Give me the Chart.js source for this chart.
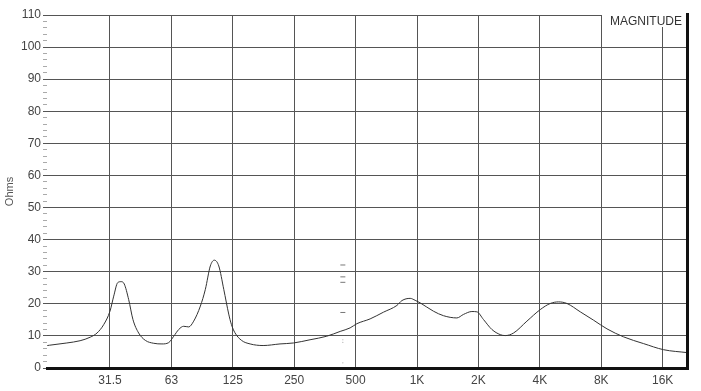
<!DOCTYPE html>
<html>
<head>
<meta charset="utf-8">
<script src="https://cdn.jsdelivr.net/npm/chart.js@4/dist/chart.umd.min.js"></script>
<style>
  html, body { margin: 0; padding: 0; background: #fff; }
  #wrap { width: 701px; height: 391px; }
</style>
</head>
<body>
<div id="wrap"><canvas id="imp"></canvas></div>
<script>
'use strict';

// impedance curve
var freqHz = [15.4, 15.8, 19.2, 22.3, 25.0, 27.0, 29.1, 31.25, 32.6, 34.1, 35.4, 36.7, 38.6, 40.5, 43.2,
  46.6, 51.2, 56.2, 60.6, 64.2, 67.9, 71.8, 76.0, 80.4, 86.7, 91.7, 97.0, 101.5, 106.7, 112.9,
  119.4, 123, 128, 138, 152, 176, 213, 248, 299, 361, 420, 470, 507, 589, 685, 797, 843, 926,
  979, 1036, 1204, 1348, 1568, 1690, 1858, 1966, 2118, 2329, 2558, 2707, 2973, 3458, 4019,
  4499, 4941, 5434, 6315, 7337, 8535, 10297, 12906, 16178, 21066];
var ohms = [7.0, 7.1, 7.8, 8.5, 9.6, 10.9, 13.5, 17.7, 22.4, 26.6, 26.9, 26.2, 21.3, 15.1, 10.9,
  8.6, 7.7, 7.5, 7.9, 9.9, 12.0, 13.0, 12.8, 14.6, 19.3, 24.5, 31.8, 33.6, 31.8, 24.5,
  16.8, 13.6, 11.0, 8.6, 7.5, 7.0, 7.5, 7.8, 8.8, 9.9, 11.4, 12.5, 13.8, 15.3, 17.4, 19.5, 21.0, 21.7,
  21.1, 20.3, 17.7, 16.3, 15.6, 16.7, 17.6, 17.5, 15.1, 12.0, 10.4, 10.1, 10.9, 14.6, 18.2,
  20.1, 20.6, 20.1, 17.5, 14.9, 12.2, 9.7, 7.6, 5.7, 4.8];

// stray little marks near 500 Hz
var markHz = 433;
var markDash = [32.1, 28.4, 26.7, 17.3];
var markDot = [8.8, 8.0, 1.6];

var tickHz = [31.25, 62.5, 125, 250, 500, 1000, 2000, 4000, 8000, 16000];
var tickLabels = ['31.5', '63', '125', '250', '500', '1K', '2K', '4K', '8K', '16K'];

var frame = {
  id: 'frame',
  afterDraw: function (chart) {
    var c = chart.ctx, a = chart.chartArea;
    c.save();
    c.fillStyle = '#fff';
    c.fillRect(602, 10, a.right - 602, 17);
    c.fillStyle = '#111';
    c.fillRect(a.right - 1, 13, 3, a.bottom - 13 + 2);
    c.fillStyle = '#333';
    c.font = '12px "Liberation Sans", Arial, sans-serif';
    c.textAlign = 'right';
    c.textBaseline = 'middle';
    c.fillText('MAGNITUDE', a.right - 5, 22);
    c.restore();
  }
};

var ctx = document.getElementById('imp').getContext('2d');
new Chart(ctx, {
  type: 'line',
  data: {
    datasets: [{
      data: freqHz.map(function (f, i) { return { x: f, y: ohms[i] }; }),
      borderColor: '#333',
      borderWidth: 1,
      pointRadius: 0,
      cubicInterpolationMode: 'monotone',
      fill: false
    }, {
      type: 'scatter',
      data: markDash.map(function (v) { return { x: markHz, y: v }; }),
      pointStyle: 'line',
      pointRadius: 2.5,
      borderColor: '#777',
      borderWidth: 1
    }, {
      type: 'scatter',
      data: markDot.map(function (v) { return { x: markHz, y: v }; }),
      pointRadius: 0.6,
      backgroundColor: '#aaa',
      borderWidth: 0
    }]
  },
  options: {
    responsive: true,
    maintainAspectRatio: false,
    animation: false,
    layout: { padding: { top: 15, right: 14, left: 0, bottom: 0 } },
    plugins: { legend: { display: false }, tooltip: { enabled: false } },
    scales: {
      x: {
        type: 'logarithmic',
        min: 15.35,
        max: 21066,
        afterBuildTicks: function (s) { s.ticks = tickHz.map(function (v) { return { value: v }; }); },
        ticks: {
          callback: function (v, i) { return tickLabels[i]; },
          color: '#444',
          font: { size: 12, family: '"Liberation Sans", Arial, sans-serif' },
          maxRotation: 0,
          autoSkip: false,
          padding: 5
        },
        grid: { color: '#555', drawTicks: false },
        border: { display: true, color: '#111', width: 3 },
        afterFit: function (s) { s.height = 23; }
      },
      y: {
        min: 0,
        max: 110,
        ticks: {
          stepSize: 2,
          autoSkip: false,
          callback: function (v) { return v % 10 === 0 ? v : ''; },
          color: '#444',
          font: { size: 12, family: '"Liberation Sans", Arial, sans-serif' },
          padding: 2
        },
        grid: {
          color: function (c) { return c.tick && c.tick.value % 10 === 0 ? '#555' : 'rgba(0,0,0,0)'; },
          tickColor: function (c) { return c.tick && c.tick.value % 10 === 0 ? '#555' : '#aaa'; },
          tickLength: 4
        },
        border: { display: false },
        title: {
          display: true,
          text: 'Ohms',
          color: '#555',
          font: { size: 11, family: '"Liberation Sans", Arial, sans-serif' },
          padding: { top: 3, bottom: 0 }
        },
        afterFit: function (s) { s.width = 47; }
      }
    }
  },
  plugins: [frame]
});
</script>
</body>
</html>
